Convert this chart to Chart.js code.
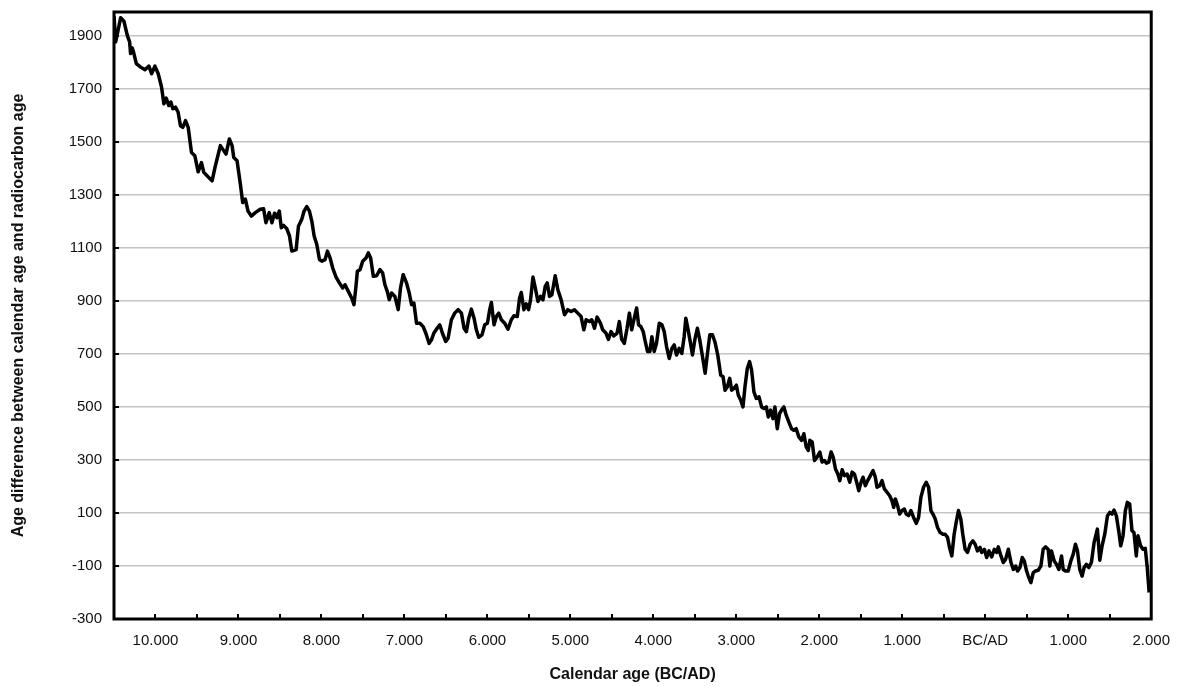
<!DOCTYPE html>
<html>
<head>
<meta charset="utf-8">
<script src="https://cdn.jsdelivr.net/npm/chart.js@4.4.1/dist/chart.umd.min.js"></script>
<style>
  body { margin: 0; background: #fff; }
  #wrap { width: 1183px; height: 686px; }
</style>
</head>
<body>
<div id="wrap"><canvas id="myChart"></canvas></div>
<script>
// ***** data (negative years = BC) *****
const years = [
  -10500, -10480, -10420, -10380, -10340, -10312, -10300, -10280, -10260, -10231,
  -10179, -10127, -10079, -10047, -10007, -9967, -9927, -9899, -9871, -9839,
  -9815, -9791, -9759, -9727, -9699, -9671, -9638, -9606, -9566, -9526,
  -9486, -9446, -9418, -9358, -9318, -9278, -9218, -9178, -9150, -9110,
  -9077, -9057, -9017, -8977, -8949, -8917, -8885, -8845, -8797, -8737,
  -8697, -8669, -8629, -8597, -8565, -8536, -8508, -8484,
  -8457, -8417, -8385, -8357, -8305, -8277, -8237, -8209, -8177, -8145,
  -8116, -8088, -8056, -8024, -7996, -7956, -7928, -7896, -7864, -7824,
  -7784, -7744, -7716, -7676, -7636, -7608, -7584, -7567, -7535, -7503,
  -7463, -7435, -7407, -7375, -7335, -7295, -7263, -7235, -7207, -7183,
  -7155, -7115, -7075, -7047, -7015, -6975, -6942, -6914, -6886, -6854,
  -6814, -6774, -6742, -6702, -6674, -6646, -6606, -6574, -6542, -6502,
  -6474, -6434, -6394,
  -6353, -6313, -6281, -6253, -6225, -6193, -6161, -6133, -6105, -6065,
  -6032, -6000, -5972, -5952, -5920, -5892, -5864, -5832, -5792, -5752,
  -5712, -5680, -5640, -5612, -5592, -5560, -5532, -5504, -5480, -5451,
  -5423, -5391, -5359, -5331, -5303, -5279, -5251, -5223, -5183, -5151,
  -5111, -5071, -5031, -4991, -4951, -4911, -4871, -4838, -4810, -4770,
  -4742, -4710, -4678, -4638, -4610, -4570, -4542, -4510, -4478, -4438,
  -4410, -4382, -4350, -4317, -4289, -4261,
  -4230, -4202, -4178, -4150, -4122, -4098, -4070, -4042, -4018, -3990,
  -3962, -3929, -3897, -3869, -3841, -3809, -3777, -3749, -3721, -3689,
  -3657, -3629, -3609, -3577, -3549, -3529, -3497, -3469, -3441, -3408,
  -3376, -3348, -3320, -3288, -3256, -3224, -3188, -3160, -3136, -3108,
  -3080, -3056, -3028, -3000, -2976, -2948, -2920, -2896, -2868, -2840,
  -2816, -2788, -2760, -2727, -2695, -2667, -2639, -2615, -2587, -2559,
  -2535, -2507, -2479, -2455, -2427, -2399, -2367, -2335, -2307, -2279,
  -2247, -2214, -2186, -2158, -2134,
  -2114, -2086, -2058, -2026, -1994, -1966, -1938, -1914, -1886, -1858,
  -1833, -1805, -1777, -1753, -1725, -1697, -1665, -1633, -1605, -1577,
  -1545, -1525, -1497, -1473, -1445, -1417, -1385, -1353, -1325, -1305,
  -1272, -1244, -1216, -1184, -1152, -1124, -1104, -1084, -1056, -1032,
  -1004, -976, -952, -924, -896, -864, -832, -804, -776, -744,
  -712, -683, -655, -631, -603, -575, -543, -511, -483, -455,
  -431, -403, -375, -351, -323, -295, -271, -243, -214, -182,
  -150, -122, -94, -62,
  -43, -11, 17, 45, 77, 109, 137, 157, 189, 217,
  245, 278, 310, 338, 366, 390, 418, 446, 470, 498,
  518, 550, 578, 606, 638, 670, 698, 726, 758, 778,
  798, 831, 859, 887, 919, 939, 967, 999, 1031, 1059,
  1087, 1111, 1139, 1167, 1191, 1219, 1247, 1279, 1311, 1351,
  1380, 1408, 1440, 1472, 1500, 1528, 1552, 1580, 1608, 1632,
  1660, 1688, 1712, 1740, 1768, 1792, 1820, 1840, 1872, 1900,
  1928, 1952, 1975
]
const ageDiff = [
  1975, 1877, 1968, 1955, 1902, 1877, 1833, 1854, 1833, 1795,
  1782, 1772, 1786, 1757, 1786, 1757, 1707, 1644, 1665, 1637,
  1650, 1625, 1631, 1612, 1561, 1555, 1580, 1555, 1460, 1448,
  1387, 1422, 1385, 1366, 1353, 1410, 1486, 1467, 1454, 1511,
  1486, 1441, 1429, 1340, 1271, 1284, 1239, 1220, 1233, 1246,
  1248, 1195, 1233, 1195, 1231, 1214, 1239, 1176,
  1185, 1172, 1145, 1088, 1094, 1182, 1208, 1239, 1256, 1239,
  1201, 1145, 1113, 1056, 1050, 1056, 1088, 1062, 1024, 990,
  968, 949, 961, 936, 911, 886, 955, 1012, 1018, 1050,
  1062, 1081, 1062, 993, 995, 1018, 1006, 961, 936, 905,
  930, 917, 867, 949, 999, 968, 930, 886, 892, 816,
  816, 803, 778, 740, 753, 778, 797, 810, 778, 747,
  759, 829, 854,
  867, 854, 797, 784, 835, 869, 835, 791, 763, 772,
  810, 816, 867, 894, 810, 841, 854, 829, 816, 793,
  829, 844, 841, 911, 932, 867, 889, 867, 904, 990,
  949, 898, 917, 904, 955, 968, 917, 923, 995, 942,
  904, 848, 867, 860, 867, 854, 841, 791, 829, 822,
  829, 797, 839, 816, 791, 778, 755, 784, 768, 778,
  822, 755, 740, 797, 854, 791,
  835, 873, 810, 803, 784, 747, 709, 709, 765, 709,
  740, 816, 810, 784, 728, 683, 721, 734, 696, 721,
  702, 765, 835, 784, 734, 696, 759, 797, 753, 690,
  627, 702, 772, 772, 743, 696, 620, 614, 563, 576,
  608, 563, 570, 582, 544, 526, 500, 576, 645, 671,
  639, 557, 532, 538, 500, 494, 500, 462, 488, 456,
  500, 418, 475, 488, 500, 469, 443, 418, 412, 418,
  387, 374, 399, 349, 336,
  374, 368, 298, 311, 330, 292, 298, 288, 292, 330,
  311, 266, 247, 222, 263, 241, 247, 216, 254, 247,
  210, 184, 216, 235, 203, 222, 241, 260, 235, 197,
  203, 222, 191, 178, 165, 146, 121, 153, 127, 96,
  109, 115, 96, 90, 109, 83, 61, 83, 159, 197,
  216, 197, 109, 96, 77, 45, 26, 20, 20, 8,
  -30, -62, 20, 64, 109, 77, 20, -37, -49, -18,
  -5, -18, -43, -30,
  -49, -37, -68, -43, -66, -37, -49, -28, -62, -87,
  -75, -37, -87, -113, -100, -119, -106, -68, -81, -119,
  -138, -163, -125, -119, -116, -100, -37, -28, -37, -100,
  -43, -81, -94, -113, -62, -113, -119, -119, -81, -56,
  -18, -43, -113, -138, -106, -94, -106, -87, -12, 39,
  -78, -24, 20, 89, 102, 96, 111, 89, 33, -24,
  14, 108, 140, 134, 33, 26, -62, 14, -24, -37,
  -33, -106, -200
]

// ***** axes *****
const yTicks = [-300, -100, 100, 300, 500, 700, 900, 1100, 1300, 1500, 1700, 1900]
const xMinorTicks = [
  -10500, -10000, -9500, -9000, -8500, -8000, -7500, -7000, -6500, -6000,
  -5500, -5000, -4500, -4000, -3500, -3000, -2500, -2000, -1500, -1000,
  -500, 0, 500, 1000, 1500, 2000
]
const xLabelValues = [-10000, -9000, -8000, -7000, -6000, -5000, -4000, -3000, -2000, -1000, 0, 1000, 2000]
const xLabels = ['10.000', '9.000', '8.000', '7.000', '6.000', '5.000', '4.000', '3.000', '2.000', '1.000', 'BC/AD', '1.000', '2.000']

// frame round the plot + small inward tick marks
const framePlugin = {
  id: 'frame',
  afterDatasetsDraw(chart) {
    const { ctx, chartArea: a, scales: { x, y } } = chart
    ctx.save()
    ctx.strokeStyle = '#000'
    ctx.lineWidth = 2
    ctx.beginPath()
    xMinorTicks.forEach(v => {
      const px = Math.round(x.getPixelForValue(v))
      ctx.moveTo(px, a.bottom)
      ctx.lineTo(px, a.bottom - 5)
    })
    yTicks.forEach(v => {
      const py = Math.round(y.getPixelForValue(v))
      ctx.moveTo(a.left, py)
      ctx.lineTo(a.left + 5, py)
    })
    ctx.stroke()
    ctx.lineWidth = 3
    ctx.strokeRect(a.left, a.top, a.width, a.height)
    ctx.restore()
  }
}

const ctx = document.getElementById('myChart').getContext('2d')
const myChart = new Chart(ctx, {
  type: 'line',
  data: {
    datasets: [{
      data: years.map((yr, i) => ({ x: yr, y: ageDiff[i] })),
      borderColor: '#000',
      borderWidth: 3.5,
      borderJoinStyle: 'round',
      pointRadius: 0,
      tension: 0,
      fill: false
    }]
  },
  options: {
    responsive: true,
    maintainAspectRatio: false,
    animation: false,
    layout: { padding: { left: 0, right: 28, top: 12, bottom: 0 } },
    plugins: { legend: { display: false }, tooltip: { enabled: false } },
    scales: {
      x: {
        type: 'linear',
        min: -10500,
        max: 2000,
        afterFit: scale => { scale.height = 67 },
        afterBuildTicks: scale => { scale.ticks = xMinorTicks.map(v => ({ value: v })) },
        grid: { display: false, drawTicks: false },
        border: { display: false },
        ticks: {
          autoSkip: false,
          maxRotation: 0,
          padding: 13,
          color: '#111',
          font: { family: 'Liberation Sans, Arial, sans-serif', size: 15 },
          callback: v => {
            const i = xLabelValues.indexOf(v)
            return i >= 0 ? xLabels[i] : ''
          }
        },
        title: {
          display: true,
          text: 'Calendar age (BC/AD)',
          color: '#111',
          padding: { top: 0, bottom: 2 },
          font: { family: 'Liberation Sans, Arial, sans-serif', size: 16, weight: 'bold' }
        }
      },
      y: {
        min: -300,
        max: 1990,
        afterFit: scale => {
          scale.width = 114
          scale.paddingTop = 0
          scale.paddingBottom = 0
        },
        afterBuildTicks: scale => { scale.ticks = yTicks.map(v => ({ value: v })) },
        grid: { color: '#c4c4c4', lineWidth: 1.5, drawTicks: false },
        border: { display: false },
        ticks: {
          padding: 12,
          color: '#111',
          font: { family: 'Liberation Sans, Arial, sans-serif', size: 15 },
          callback: v => String(v)
        },
        title: {
          display: true,
          text: 'Age difference between calendar age and radiocarbon age',
          color: '#111',
          padding: { top: 9, bottom: 0 },
          font: { family: 'Liberation Sans, Arial, sans-serif', size: 16, weight: 'bold' }
        }
      }
    }
  },
  plugins: [framePlugin]
})
</script>
</body>
</html>
